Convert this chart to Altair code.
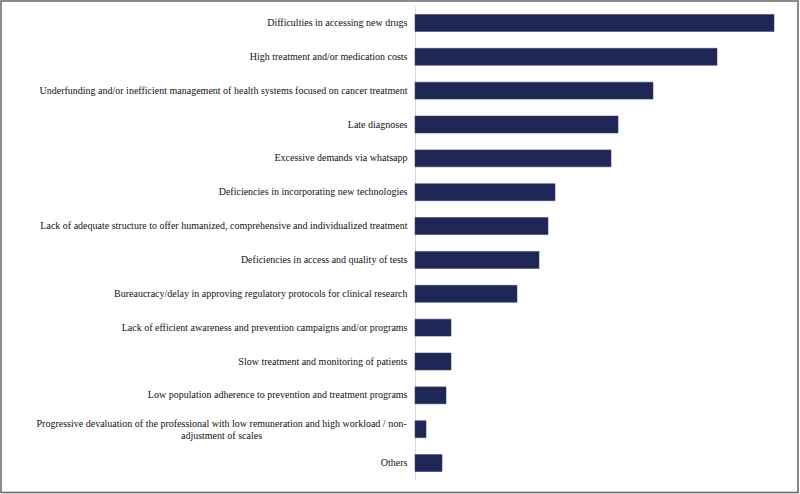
import altair as alt
import pandas as pd

# Reported challenges (top to bottom) and their bar lengths
categories = [
    "Difficulties in accessing new drugs",
    "High treatment and/or medication costs",
    "Underfunding and/or inefficient management of health systems focused on cancer treatment",
    "Late diagnoses",
    "Excessive demands via whatsapp",
    "Deficiencies in incorporating new technologies",
    "Lack of adequate structure to offer humanized, comprehensive and individualized treatment",
    "Deficiencies in access and quality of tests",
    "Bureaucracy/delay in approving regulatory protocols for clinical research",
    "Lack of efficient awareness and prevention campaigns and/or programs",
    "Slow treatment and monitoring of patients",
    "Low population adherence to prevention and treatment programs",
    "Progressive devaluation of the professional with low remuneration and high workload / non-|adjustment of scales",
    "Others",
]
values = [35.9, 30.2, 23.8, 20.3, 19.6, 14.0, 13.3, 12.4, 10.2, 3.6, 3.6, 3.1, 1.1, 2.7]

df = pd.DataFrame({"item": categories, "value": values})

FONT = "'Liberation Serif', 'Times New Roman', serif"
NAVY = "#1f2757"
WRAPPED = categories[12]
IS_WRAPPED = f"datum.value == '{WRAPPED}'"

bars = alt.Chart(df).mark_bar(color=NAVY, stroke="#3a4170", strokeWidth=0.6).encode(
    x=alt.X("value:Q", scale=alt.Scale(domain=[0, 38.4], nice=False), axis=None),
    y=alt.Y(
        "item:N",
        sort=categories,
        scale=alt.Scale(paddingInner=0.5, paddingOuter=0.25),
        axis=alt.Axis(
            title=None,
            ticks=False,
            grid=False,
            domainColor="#d9d9d9",
            domainWidth=1,
            labelFont=FONT,
            labelFontSize=10,
            labelColor="#111111",
            labelLimit=0,
            labelLineHeight=11.5,
            labelExpr="split(datum.label, '|')",
            labelAlign={"condition": {"test": IS_WRAPPED, "value": "center"}, "value": "right"},
            labelPadding={"condition": {"test": IS_WRAPPED, "value": 194}, "value": 8},
            labelOffset={"condition": {"test": IS_WRAPPED, "value": -5}, "value": 0},
        ),
    ),
)

# Thin frame around the whole figure
frame = alt.Chart(pd.DataFrame({"f": [0]})).mark_rect(
    fillOpacity=0, stroke="#666666", strokeWidth=1.5
).encode(
    x=alt.value(-414),
    x2=alt.value(383),
    y=alt.value(-5),
    y2=alt.value(486.5),
)

chart = alt.layer(bars, frame).properties(
    width=384,
    height=474,
    autosize=alt.AutoSizeParams(type="none"),
    padding={"left": 415, "top": 6, "right": 1, "bottom": 14},
    background="white",
).configure_view(stroke=None)

chart.save("out.html", embed_options={"renderer": "svg", "actions": False})
